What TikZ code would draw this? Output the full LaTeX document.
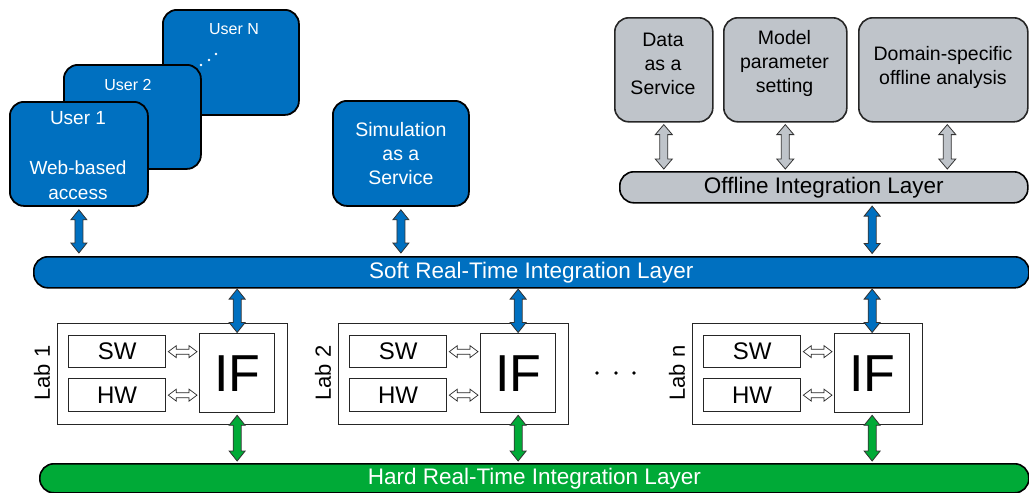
\documentclass[tikz,border=0pt]{standalone}
\usepackage{fontspec}
\setmainfont{Liberation Sans}
\usetikzlibrary{calc}

\definecolor{ublue}{RGB}{0,112,192}
\definecolor{hgreen}{RGB}{0,170,55}
\definecolor{lgray}{RGB}{191,196,202}

\newcommand\fs[2]{\fontsize{#1}{#2}\selectfont}

% vertical block double arrow: style, upper point, lower point, gap, shaft half-width, head half-width, head length
\newcommand\vblock[7]{%
  \draw[#1] let \p1=(#2), \p2=(#3) in
    ({\x1},{\y1-#4}) -- ({\x1+#6},{\y1-#4-#7}) -- ({\x1+#5},{\y1-#4-#7})
    -- ({\x1+#5},{\y2+#4+#7}) -- ({\x1+#6},{\y2+#4+#7}) -- ({\x1},{\y2+#4})
    -- ({\x1-#6},{\y2+#4+#7}) -- ({\x1-#5},{\y2+#4+#7}) -- ({\x1-#5},{\y1-#4-#7})
    -- ({\x1-#6},{\y1-#4-#7}) -- cycle;}
% horizontal block double arrow: style, left point, right point, gap, shaft half-height, head half-height, head length
\newcommand\hblock[7]{%
  \draw[#1] let \p1=(#2), \p2=(#3) in
    ({\x1+#4},{\y1}) -- ({\x1+#4+#7},{\y1+#6}) -- ({\x1+#4+#7},{\y1+#5})
    -- ({\x2-#4-#7},{\y1+#5}) -- ({\x2-#4-#7},{\y1+#6}) -- ({\x2-#4},{\y1})
    -- ({\x2-#4-#7},{\y1-#6}) -- ({\x2-#4-#7},{\y1-#5}) -- ({\x1+#4+#7},{\y1-#5})
    -- ({\x1+#4+#7},{\y1-#6}) -- cycle;}

\tikzset{
  ubox/.style={draw=black, line width=1.8pt, fill=ublue, rounded corners=14pt,
    anchor=north west, inner sep=0pt, text=white, align=center},
  utext/.style={text=white, inner sep=0pt, align=center, font=\fs{16}{19}},
  gbox/.style={draw=black!85, line width=1.6pt, fill=lgray, rounded corners=14pt,
    anchor=north west, inner sep=0pt},
  gtext/.style={align=center, inner sep=0pt, font=\fs{19.5}{24}},
  layer/.style={draw=black, line width=1.6pt, rounded corners=14pt,
    anchor=north west, inner sep=0pt, font=\fs{22.5}{27}},
  labbox/.style={draw=black!85, line width=1.3pt, fill=white,
    anchor=north west, inner sep=0pt},
  barrow/.style={fill=ublue, draw=black!80, line width=0.8pt},
  garrow/.style={fill=hgreen, draw=black!80, line width=0.8pt},
  grarrow/.style={fill=lgray, draw=black!80, line width=0.8pt},
  warrow/.style={fill=white, draw=black!85, line width=0.7pt}
}

\newcommand\bluev[3]{\vblock{barrow}{#1}{#2}{#3}{4pt}{8pt}{10pt}}
\newcommand\greenv[3]{\vblock{garrow}{#1}{#2}{#3}{4pt}{8pt}{10pt}}
\newcommand\grayv[3]{\vblock{grarrow}{#1}{#2}{#3}{4pt}{8.5pt}{10pt}}
\newcommand\whiteh[2]{\hblock{warrow}{#1}{#2}{2pt}{2.5pt}{6pt}{8pt}}

\begin{document}
\begin{tikzpicture}[x=1pt,y=-1pt]
\useasboundingbox (0,0) rectangle (1029,493);

% stacked user sessions
\node[ubox, minimum width=136pt, minimum height=105pt] (un) at (162,9) {};
\node[utext] (untxt) at (234,29) {User N};
\foreach \xx/\yy in {201/65, 209/60, 216/54} \fill[white] (\xx,\yy) circle (1.3pt);
\node[ubox, minimum width=137pt, minimum height=104pt] (u2) at (63,64) {};
\node[utext] (u2txt) at (128,85) {User 2};
\node[ubox, minimum width=138pt, minimum height=104pt] (u1) at (9,101) {};
\node[utext, font=\fs{19}{25}] (u1txt) at (78,156) {User 1\\[25pt]Web-based\\access};

% simulation service
\node[ubox, minimum width=136pt, minimum height=105pt, font=\fs{19.5}{24}] (sim) at (332,100)
  {Simulation\\as a\\Service};

% offline services
\node[gbox, minimum width=98pt, minimum height=104pt] (data) at (614,17) {};
\node[gtext] (datatxt) at (663,64) {Data\\as a\\Service};
\node[gbox, minimum width=123pt, minimum height=104pt] (model) at (723,17) {};
\node[gtext] (modeltxt) at (784.5,63) {Model\\parameter\\setting};
\node[gbox, minimum width=169pt, minimum height=104pt] (dom) at (858,17) {};
\node[gtext] (domtxt) at (943,67) {Domain-specific\\offline analysis};

% integration layers
\node[layer, fill=lgray, minimum width=408pt, minimum height=31pt] (off) at (619,171)
  {Offline Integration Layer};
\node[layer, fill=ublue, text=white, minimum width=995pt, minimum height=31pt] (soft) at (33,256)
  {Soft Real-Time Integration Layer};
\node[layer, fill=hgreen, text=white, minimum width=989pt, minimum height=29pt] (hard) at (39,463)
  {Hard Real-Time Integration Layer};

% laboratories
\foreach \off/\id in {0/1, 281/2, 635/n} {
  \node[labbox, minimum width=230pt, minimum height=101pt] (lab\id) at (57+\off,323) {};
  \node[labbox, minimum width=97pt, minimum height=32pt, font=\fs{24}{28}] (sw\id) at (68+\off,335) {SW};
  \node[labbox, minimum width=97pt, minimum height=33pt, font=\fs{24}{28}] (hw\id) at (68+\off,378) {HW};
  \node[labbox, minimum width=75pt, minimum height=79pt, font=\fs{52}{56}] (if\id) at (199+\off,333) {IF};
  \node[rotate=90, inner sep=0pt, font=\fs{22}{26}] (lbl\id) at (42+\off,373) {Lab \id};
  \whiteh{sw\id.east}{if\id.west |- sw\id.east}
  \whiteh{hw\id.east}{if\id.west |- hw\id.east}
  \bluev{if\id.north |- soft.south}{if\id.north}{0.5pt}
  \greenv{if\id.south}{if\id.south |- hard.north}{2pt}
}
\foreach \xx in {597,616,634} \fill (\xx,373) circle (1.8pt);

% connections to the upper layers
\bluev{u1.south}{u1.south |- soft.north}{3pt}
\bluev{sim.south}{sim.south |- soft.north}{3pt}
\bluev{ifn.north |- off.south}{ifn.north |- soft.north}{2.5pt}
\grayv{data.south}{data.south |- off.north}{2pt}
\grayv{model.south}{model.south |- off.north}{2pt}
\grayv{[xshift=4pt]dom.south}{[xshift=4pt]dom.south |- off.north}{2pt}
\end{tikzpicture}
\end{document}
